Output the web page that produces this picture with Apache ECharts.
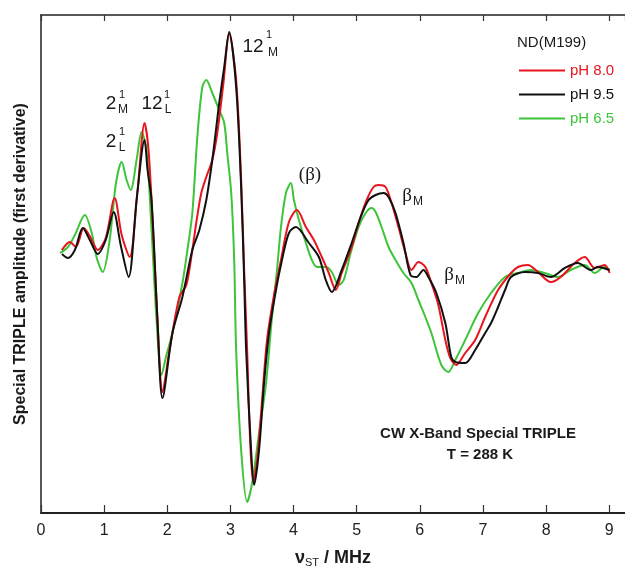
<!DOCTYPE html>
<html>
<head>
<meta charset="utf-8">
<script src="https://cdn.jsdelivr.net/npm/echarts@6/dist/echarts.min.js"></script>
<style>html,body{margin:0;padding:0;background:#fff}#c{width:625px;height:573px}</style>
</head>
<body>
<div id="c"></div>
<script>
// x: radio frequency nu_ST (MHz); y: special TRIPLE amplitude (arbitrary units)
var xTicks = [0,1,2,3,4,5,6,7,8,9];

var xBlack = [0.331,0.426,0.536,0.662,0.773,0.899,1.025,1.151,1.262,1.388,1.514,1.640,1.688,1.751,1.845,1.924,2.082,2.240,2.397,2.508,2.618,2.713,2.823,2.902,2.981,3.091,3.170,3.218,3.249,3.328,3.375,3.454,3.533,3.612,3.722,3.817,3.927,4.038,4.243,4.401,4.511,4.606,4.763,4.921,5.063,5.189,5.300,5.426,5.505,5.615,5.741,5.852,5.946,6.057,6.136,6.262,6.404,6.498,6.562,6.719,6.877,7.035,7.129,7.240,7.350,7.445,7.666,7.871,8.076,8.297,8.502,8.707,8.817,9.006];
var yBlack = [1.6,1.2,2.0,4.2,3.0,1.6,3.0,5.8,2.5,-0.7,7.0,13.0,10.0,7.0,-5.0,-12.8,-6.3,-2.7,2.0,4.0,7.0,11.0,16.7,20.3,23.8,18.3,8.3,-1.0,-8.0,-18.0,-21.5,-18.0,-11.3,-6.3,-2.0,1.0,3.7,4.3,2.7,1.3,-1.0,-2.2,0.0,2.7,5.3,7.0,7.5,7.7,7.3,5.7,2.7,-0.5,-0.7,0.0,-0.7,-2.3,-5.3,-8.7,-9.2,-9.3,-8.0,-6.3,-5.3,-3.7,-2.0,-0.7,-0.2,-0.3,-0.7,0.2,0.7,0.0,0.3,0.0];

var xRed = [0.331,0.457,0.552,0.678,0.773,0.899,1.025,1.167,1.278,1.404,1.530,1.640,1.703,1.767,1.845,1.924,2.035,2.192,2.303,2.397,2.461,2.539,2.618,2.713,2.792,2.886,2.981,3.091,3.170,3.218,3.265,3.312,3.360,3.423,3.502,3.580,3.691,3.801,3.927,4.054,4.196,4.322,4.448,4.558,4.669,4.763,4.921,5.032,5.158,5.268,5.347,5.457,5.552,5.662,5.773,5.868,5.978,6.088,6.183,6.293,6.404,6.483,6.577,6.719,6.877,7.035,7.240,7.445,7.555,7.713,7.871,8.076,8.233,8.454,8.612,8.770,8.927,9.006];
var yRed = [2.0,2.8,2.3,4.2,3.4,2.0,3.2,7.2,3.5,1.3,8.0,14.7,12.0,5.0,-5.0,-12.2,-8.0,-2.7,-1.5,2.0,4.8,7.7,9.3,11.0,13.7,18.5,23.6,19.0,9.0,0.0,-8.0,-17.0,-21.2,-19.0,-13.0,-7.0,-2.5,1.0,4.8,6.0,4.3,3.0,1.3,-0.3,-2.0,-0.3,2.3,4.7,7.0,8.3,8.5,8.3,6.7,4.3,1.7,0.0,0.8,0.3,-1.3,-3.5,-7.0,-8.8,-9.5,-8.3,-7.0,-4.7,-2.0,-0.3,0.3,0.5,-0.2,-1.2,-0.7,0.7,1.3,0.2,0.5,-0.3];

var xGreen = [0.300,0.426,0.536,0.694,0.804,0.883,0.978,1.088,1.183,1.278,1.356,1.420,1.514,1.593,1.672,1.751,1.830,1.909,1.987,2.082,2.240,2.319,2.397,2.476,2.555,2.618,2.713,2.823,2.902,2.950,3.013,3.060,3.091,3.170,3.265,3.344,3.454,3.565,3.659,3.738,3.801,3.880,3.959,4.006,4.085,4.196,4.290,4.369,4.511,4.606,4.716,4.795,4.905,5.032,5.142,5.237,5.300,5.394,5.505,5.615,5.741,5.868,5.978,6.088,6.183,6.341,6.451,6.562,6.719,6.924,7.129,7.350,7.555,7.760,7.981,8.186,8.391,8.612,8.770,8.927,9.006];
var yGreen = [1.7,2.3,3.5,5.5,3.7,1.2,-0.2,3.0,8.5,10.8,9.0,8.0,11.0,13.8,12.0,4.0,-5.0,-10.5,-8.5,-6.3,-1.3,2.0,5.7,13.3,18.3,19.0,17.7,16.0,14.7,11.7,7.7,1.0,-8.0,-18.0,-23.2,-21.3,-16.3,-11.3,-4.7,0.0,4.3,7.7,8.7,7.0,5.0,2.7,1.0,0.3,0.3,-0.2,-1.5,-1.0,1.7,4.3,5.7,6.2,5.8,4.3,2.3,1.0,-0.3,-1.3,-3.0,-4.7,-6.3,-9.5,-10.2,-9.0,-7.0,-4.3,-2.3,-0.7,-0.3,0.0,-0.3,-0.7,0.0,0.5,-0.3,0.3,0.0];

var seriesNames = ['pH 8.0','pH 9.5','pH 6.5'];
var seriesColors = ['#e8141e','#111111','#3ec43a'];

function zip(xs, ys){ return xs.map(function(x,i){ return [x, ys[i]]; }); }

var chart = echarts.init(document.getElementById('c'), null, {renderer:'canvas'});
var FS = 'Liberation Sans, Arial, sans-serif';
var SERIF = 'Liberation Serif, Times New Roman, serif';

function txt(str, x, y, size, opts){
  opts = opts || {};
  return {type:'text', x:x, y:y, z:100, style:{text:str, fill:opts.fill||'#1a1a1a', fontSize:size, fontFamily:opts.family||FS, fontWeight:opts.weight||'normal', align:opts.align||'center', verticalAlign:'middle'}};
}

var option = {
  animation:false,
  backgroundColor:'#fff',
  grid:{left:41, top:15, right:-3, bottom:60, containLabel:false},
  xAxis:[{
    type:'value', min:0, max:9.25, interval:1, position:'bottom',
    axisLine:{show:true, onZero:false, lineStyle:{color:'#222', width:2}},
    axisTick:{show:true, inside:true, length:8, lineStyle:{color:'#333', width:1.2}},
    axisLabel:{show:true, color:'#222', fontSize:16, fontFamily:FS, margin:10, showMaxLabel:false,
      formatter:function(v){ return xTicks.indexOf(v) >= 0 ? String(v) : ''; }},
    splitLine:{show:false},
    name:'{v|ν}{s|ST}{v| / MHz}', nameLocation:'middle', nameGap:36,
    nameTextStyle:{rich:{v:{fontSize:18, fontWeight:'bold', fontFamily:FS, color:'#1a1a1a'}, s:{fontSize:11, fontFamily:FS, color:'#1a1a1a', verticalAlign:'bottom', padding:[8,0,0,0]}}}
  },{
    type:'value', min:0, max:9.25, interval:1, position:'top',
    axisLine:{show:true, onZero:false, lineStyle:{color:'#222', width:1.5}},
    axisTick:{show:true, inside:true, length:6, lineStyle:{color:'#333', width:1.2}},
    axisLabel:{show:false}, splitLine:{show:false}
  }],
  yAxis:{
    type:'value', min:-24.3, max:25.5,
    axisLine:{show:true, onZero:false, lineStyle:{color:'#222', width:1.5}},
    axisTick:{show:false}, axisLabel:{show:false}, splitLine:{show:false},
    name:'Special TRIPLE amplitude (first derivative)', nameLocation:'middle', nameGap:12,
    nameTextStyle:{fontSize:16, fontWeight:'bold', fontFamily:FS, color:'#1a1a1a'}
  },
  legend:{
    orient:'vertical', left:514, top:58, itemWidth:46, itemHeight:12, itemGap:9,
    icon:'path://M0,5 L46,5 L46,7 L0,7 Z',
    textStyle:{fontSize:15, fontFamily:FS},
    data:[
      {name:seriesNames[0], textStyle:{color:seriesColors[0]}},
      {name:seriesNames[1], textStyle:{color:seriesColors[1]}},
      {name:seriesNames[2], textStyle:{color:seriesColors[2]}}
    ]
  },
  series:[
    {name:seriesNames[2], type:'line', data:zip(xGreen,yGreen), symbol:'none', smooth:0.3, lineStyle:{color:seriesColors[2], width:2}, itemStyle:{color:seriesColors[2]}},
    {name:seriesNames[0], type:'line', data:zip(xRed,yRed), symbol:'none', smooth:0.3, lineStyle:{color:seriesColors[0], width:2}, itemStyle:{color:seriesColors[0]}},
    {name:seriesNames[1], type:'line', data:zip(xBlack,yBlack), symbol:'none', smooth:0.3, lineStyle:{color:seriesColors[1], width:2}, itemStyle:{color:seriesColors[1]}}
  ],
  graphic:[
    txt('ND(M199)', 517, 43, 15, {align:'left'}),
    txt('2', 111, 104, 19), txt('1', 122, 95, 11), txt('M', 123, 110, 12),
    txt('12', 152, 104, 19), txt('1', 167, 95, 11), txt('L', 168, 110, 12),
    txt('2', 111, 142, 19), txt('1', 122, 132, 11), txt('L', 122, 148, 12),
    txt('12', 253, 47, 19), txt('1', 269, 35, 11), txt('M', 273, 53, 12),
    txt('(β)', 310, 175, 19, {family:SERIF}),
    txt('β', 407, 196, 19, {family:SERIF}), txt('M', 418, 202, 12),
    txt('β', 449, 275, 19, {family:SERIF}), txt('M', 460, 281, 12),
    txt('CW X-Band Special TRIPLE', 478, 434, 15, {weight:'bold'}),
    txt('T = 288 K', 480, 455, 15, {weight:'bold'})
  ]
};
chart.setOption(option);
</script>
</body>
</html>
